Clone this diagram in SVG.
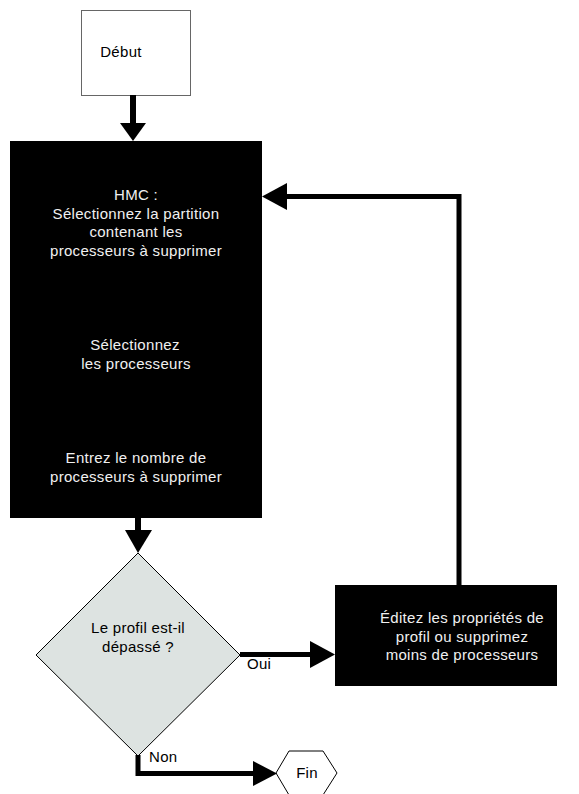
<svg xmlns="http://www.w3.org/2000/svg" width="579" height="794" viewBox="0 0 579 794">
<style>
text{font-family:"Liberation Sans",Arial,Helvetica,sans-serif;font-size:15px;letter-spacing:0.3px;}
.w{fill:#f0f0f0;text-anchor:middle;}
.k{fill:#000;text-anchor:middle;}
.l{fill:#000;}
.shaft{stroke:#000;stroke-width:6;fill:none;}
.thin{stroke:#000;stroke-width:5;fill:none;}
.head{fill:#000;}
</style>
<rect width="579" height="794" fill="#fff"/>
<g id="debut">
<rect x="81.5" y="10.5" width="109" height="85" fill="#fff" stroke="#666" stroke-width="1"/>
<text class="k" x="121" y="57">Début</text>
</g>
<g id="hmc">
<rect x="10" y="141" width="252" height="377" fill="#000"/>
<text class="w" x="136" y="200">HMC :</text>
<text class="w" x="136" y="218.5">Sélectionnez la partition</text>
<text class="w" x="136" y="237">contenant les</text>
<text class="w" x="136" y="255.5">processeurs à supprimer</text>
<text class="w" x="135" y="350">Sélectionnez</text>
<text class="w" x="136" y="368.5">les processeurs</text>
<text class="w" x="136" y="463">Entrez le nombre de</text>
<text class="w" x="136" y="481.5">processeurs à supprimer</text>
</g>
<g id="decision">
<polygon points="138,553 240,655 138,756 36,655" fill="#dde3e1" stroke="#000" stroke-width="1"/>
<text class="k" x="138" y="633">Le profil est-il</text>
<text class="k" x="138" y="652">dépassé ?</text>
</g>
<g id="edit">
<rect x="335" y="585" width="222" height="101" fill="#000"/>
<text class="w" x="462" y="623">Éditez les propriétés de</text>
<text class="w" x="462" y="641.5">profil ou supprimez</text>
<text class="w" x="462" y="660">moins de processeurs</text>
</g>
<g id="fin">
<polygon points="276,773 289,751 323,751 337,773 323,795 289,795" fill="#fff" stroke="#000" stroke-width="1"/>
<text class="k" x="307" y="778">Fin</text>
</g>
<g id="connectors">
<line class="shaft" x1="133" y1="95" x2="133" y2="124"/>
<polygon class="head" points="120,123 146,123 133,141"/>
<line class="shaft" x1="138" y1="518" x2="138" y2="531"/>
<polygon class="head" points="125,530 152,530 138,553"/>
<line class="thin" x1="240" y1="654.5" x2="311" y2="654.5"/>
<polygon class="head" points="310,641 310,668 335,654.5"/>
<polyline class="thin" points="459,585 459,196.5 286,196.5"/>
<polygon class="head" points="287,183 287,210 262,196.5"/>
<polyline class="thin" points="138,755 138,773.5 254,773.5"/>
<polygon class="head" points="253,761 253,786 277,773.5"/>
<text class="l" x="247" y="669">Oui</text>
<text class="l" x="149" y="762">Non</text>
</g>
</svg>
